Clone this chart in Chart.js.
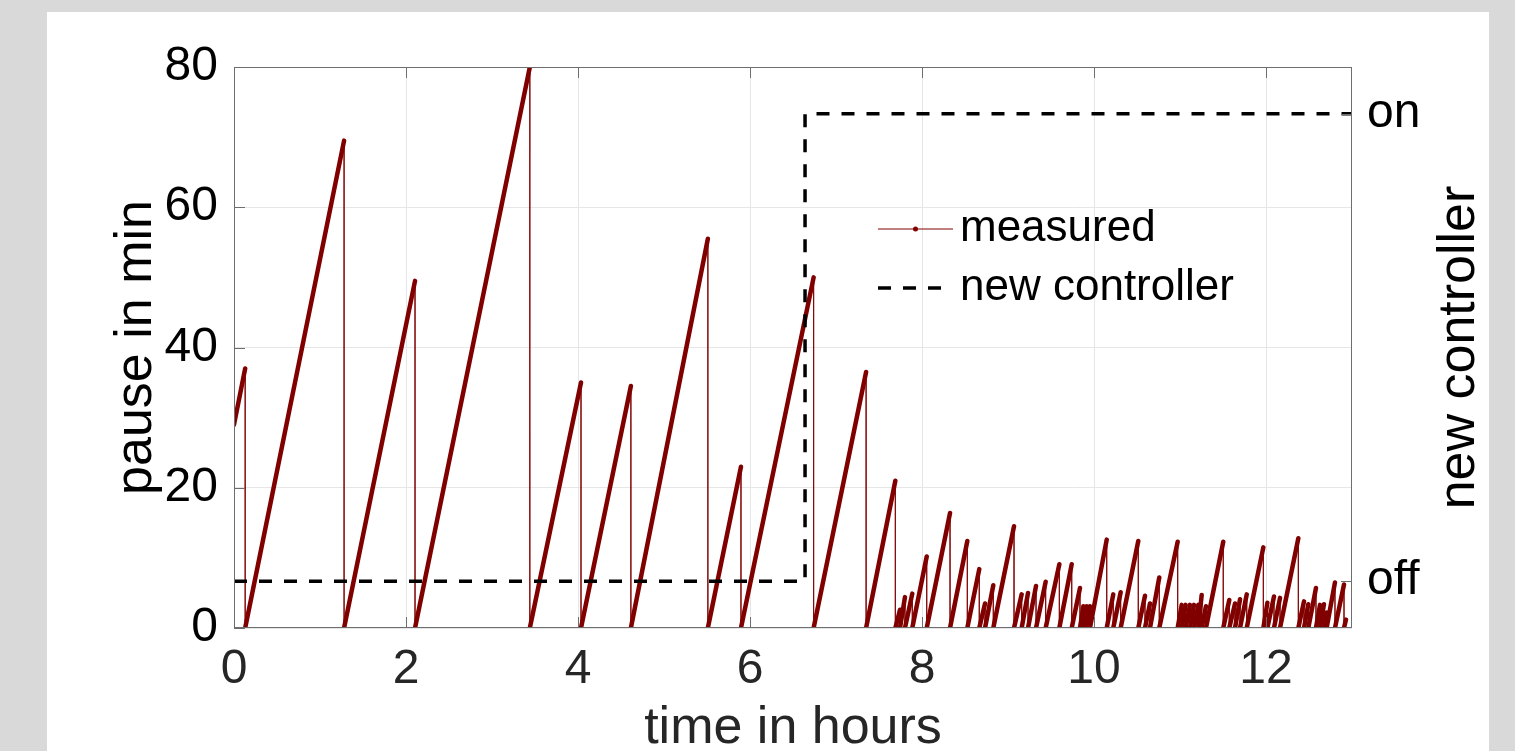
<!DOCTYPE html>
<html>
<head>
<meta charset="utf-8">
<script src="https://cdn.jsdelivr.net/npm/chart.js@4.4.1/dist/chart.umd.min.js"></script>
<style>
  html, body { margin: 0; padding: 0; background: #d9d9d9; overflow: hidden; }
  #panel { position: absolute; left: 47px; top: 12px; width: 1442px; height: 739px; background: #fff; }
  #chart { position: absolute; left: 0; top: 0; }
</style>
</head>
<body>
<div id="panel"></div>
<canvas id="chart" width="1515" height="751"></canvas>
<script>
// pause value at t = 0
var startValue = 29;
// times (hours) where the pause resets, and the pause reached just before each reset (min)
var dropTimes = [0.13, 1.28, 2.105, 3.44, 4.035, 4.615, 5.51, 5.895, 6.74, 7.35, 7.69,
    7.744, 7.802, 7.887, 8.055, 8.326, 8.527, 8.666, 8.733, 8.829, 9.07, 9.159, 9.233,
    9.326, 9.438, 9.597, 9.741, 9.837, 9.876, 9.915, 9.953, 10.148, 10.224, 10.31,
    10.515, 10.593, 10.651, 10.759, 10.973, 11.02, 11.066, 11.116, 11.163, 11.213,
    11.252, 11.302, 11.503, 11.573, 11.64, 11.698, 11.776, 11.969, 12.016, 12.093,
    12.163, 12.376, 12.442, 12.492, 12.581, 12.628, 12.674, 12.705, 12.802, 12.907];
var peakValues = [37, 69.5, 49.5, 80, 35, 34.5, 55.5, 23, 50, 36.5, 21,
    2.6, 4.4, 4.9, 10.2, 16.4, 12.4, 8.4, 3.5, 6.1, 14.5, 4.8, 5.0,
    6.0, 6.6, 9.1, 9.1, 5.7, 3.1, 3.1, 3.1, 12.6, 4.8, 5.1,
    12.4, 4.6, 3.5, 7.2, 12.3, 3.3, 3.3, 3.3, 3.3, 3.3,
    4.7, 3.1, 12.3, 4.0, 3.5, 4.1, 4.8, 11.5, 3.6, 4.5,
    4.3, 12.8, 3.8, 3.4, 5.7, 3.3, 3.4, 2.2, 6.5, 6.2];
// last partial ramp at the end of the record
var endTime = 12.93;
var endValue = 1.2;

// new controller state (0 = off, 1 = on)
var controllerTimes = [0, 6.64, 6.64, 13];
var controllerStates = [0, 0, 1, 1];

var xTicks = [0, 2, 4, 6, 8, 10, 12];
var yTicks = [0, 20, 40, 60, 80];
var stateLabels = ['off', 'on'];

var FONT = '"Liberation Sans", Arial, Helvetica, sans-serif';
var RED = '#800000';

var measured = [{ x: 0, y: startValue }];
for (var i = 0; i < dropTimes.length; i++) {
    measured.push({ x: dropTimes[i], y: peakValues[i] });
    measured.push({ x: dropTimes[i], y: 0 });
}
measured.push({ x: endTime, y: endValue });

var controller = controllerTimes.map(function (t, i) {
    return { x: t, y: controllerStates[i] };
});

// box, inward ticks, titles and legend
var decorations = {
    id: 'decorations',
    afterDraw: function (chart) {
        var ctx = chart.ctx;
        var a = chart.chartArea;
        var sx = chart.scales.x, sy = chart.scales.y, sy2 = chart.scales.y2;
        ctx.save();
        ctx.strokeStyle = '#6e6e6e';
        ctx.lineWidth = 1;
        ctx.strokeRect(a.left + 0.5, a.top + 0.5, a.right - a.left - 1, a.bottom - a.top - 1);
        var tl = 11;
        ctx.beginPath();
        xTicks.forEach(function (v) {
            var px = Math.round(sx.getPixelForValue(v)) + 0.5;
            ctx.moveTo(px, a.bottom); ctx.lineTo(px, a.bottom - tl);
            ctx.moveTo(px, a.top); ctx.lineTo(px, a.top + tl);
        });
        yTicks.forEach(function (v) {
            var py = Math.round(sy.getPixelForValue(v)) + 0.5;
            ctx.moveTo(a.left, py); ctx.lineTo(a.left + tl, py);
        });
        [0, 1].forEach(function (v) {
            var py = Math.round(sy2.getPixelForValue(v)) + 0.5;
            ctx.moveTo(a.right, py); ctx.lineTo(a.right - tl, py);
        });
        ctx.stroke();

        // axis titles
        ctx.fillStyle = '#000';
        ctx.font = '52px ' + FONT;
        ctx.textAlign = 'center';
        ctx.textBaseline = 'middle';
        ctx.fillStyle = '#262626';
        ctx.fillText('time in hours', (a.left + a.right) / 2, 729);
        ctx.fillStyle = '#000';
        ctx.save();
        ctx.translate(137, (a.top + a.bottom) / 2);
        ctx.rotate(-Math.PI / 2);
        ctx.fillText('pause in min', 0, 0);
        ctx.restore();
        ctx.save();
        ctx.translate(1460, (a.top + a.bottom) / 2);
        ctx.rotate(-Math.PI / 2);
        ctx.fillText('new controller', 0, 0);
        ctx.restore();

        // legend
        var lx0 = 878, lx1 = 953, tx = 960;
        var r1 = 229, r2 = 288;
        ctx.strokeStyle = RED;
        ctx.lineWidth = 1;
        ctx.beginPath();
        ctx.moveTo(lx0, r1); ctx.lineTo(lx1, r1);
        ctx.stroke();
        ctx.fillStyle = RED;
        ctx.beginPath();
        ctx.arc((lx0 + lx1) / 2, r1, 2.5, 0, Math.PI * 2);
        ctx.fill();
        ctx.strokeStyle = '#000';
        ctx.lineWidth = 3.5;
        ctx.setLineDash([13, 12]);
        ctx.beginPath();
        ctx.moveTo(lx0, r2); ctx.lineTo(lx1, r2);
        ctx.stroke();
        ctx.setLineDash([]);
        ctx.fillStyle = '#000';
        ctx.font = '44px ' + FONT;
        ctx.textAlign = 'left';
        ctx.fillText('measured', tx, r1);
        ctx.fillText('new controller', tx, r2);
        ctx.restore();
    }
};

var chart = new Chart(document.getElementById('chart'), {
    type: 'line',
    data: {
        datasets: [{
            label: 'measured',
            data: measured,
            order: 2,
            borderColor: RED,
            borderWidth: 1,
            pointRadius: 0,
            borderCapStyle: 'round',
            borderJoinStyle: 'round',
            tension: 0,
            segment: {
                borderWidth: function (c) { return c.p1.parsed.y > c.p0.parsed.y ? 4.5 : 1; },
                borderColor: function (c) { return c.p1.parsed.y > c.p0.parsed.y ? RED : 'rgba(128,0,0,0.75)'; }
            }
        }, {
            label: 'new controller',
            data: controller,
            yAxisID: 'y2',
            order: 1,
            borderColor: '#000',
            borderWidth: 3.5,
            borderDash: [13, 12],
            pointRadius: 0,
            tension: 0
        }]
    },
    options: {
        responsive: false,
        animation: false,
        devicePixelRatio: 1,
        layout: { padding: { top: 67, left: 0, right: 0, bottom: 0 } },
        plugins: { legend: { display: false }, tooltip: { enabled: false } },
        scales: {
            x: {
                type: 'linear',
                min: 0,
                max: 13,
                afterBuildTicks: function (s) { s.ticks = xTicks.map(function (v) { return { value: v }; }); },
                afterFit: function (s) { s.height = 123; },
                ticks: { font: { size: 48, family: FONT }, color: '#262626', padding: 13, maxRotation: 0 },
                grid: { color: '#e6e6e6', drawTicks: false },
                border: { display: false }
            },
            y: {
                position: 'left',
                min: 0,
                max: 80,
                afterBuildTicks: function (s) { s.ticks = yTicks.map(function (v) { return { value: v }; }); },
                afterFit: function (s) { s.width = 234; },
                ticks: { font: { size: 48, family: FONT }, color: '#000', padding: 16 },
                grid: { color: '#e6e6e6', drawTicks: false },
                border: { display: false }
            },
            y2: {
                position: 'right',
                min: -0.1,
                max: 1.1,
                afterBuildTicks: function (s) { s.ticks = [{ value: 0 }, { value: 1 }]; },
                afterFit: function (s) { s.width = 163; },
                ticks: {
                    font: { size: 48, family: FONT },
                    color: '#000',
                    padding: 15,
                    callback: function (v) { return stateLabels[v]; }
                },
                grid: { drawOnChartArea: false, drawTicks: false },
                border: { display: false }
            }
        }
    },
    plugins: [decorations]
});
</script>
</body>
</html>
